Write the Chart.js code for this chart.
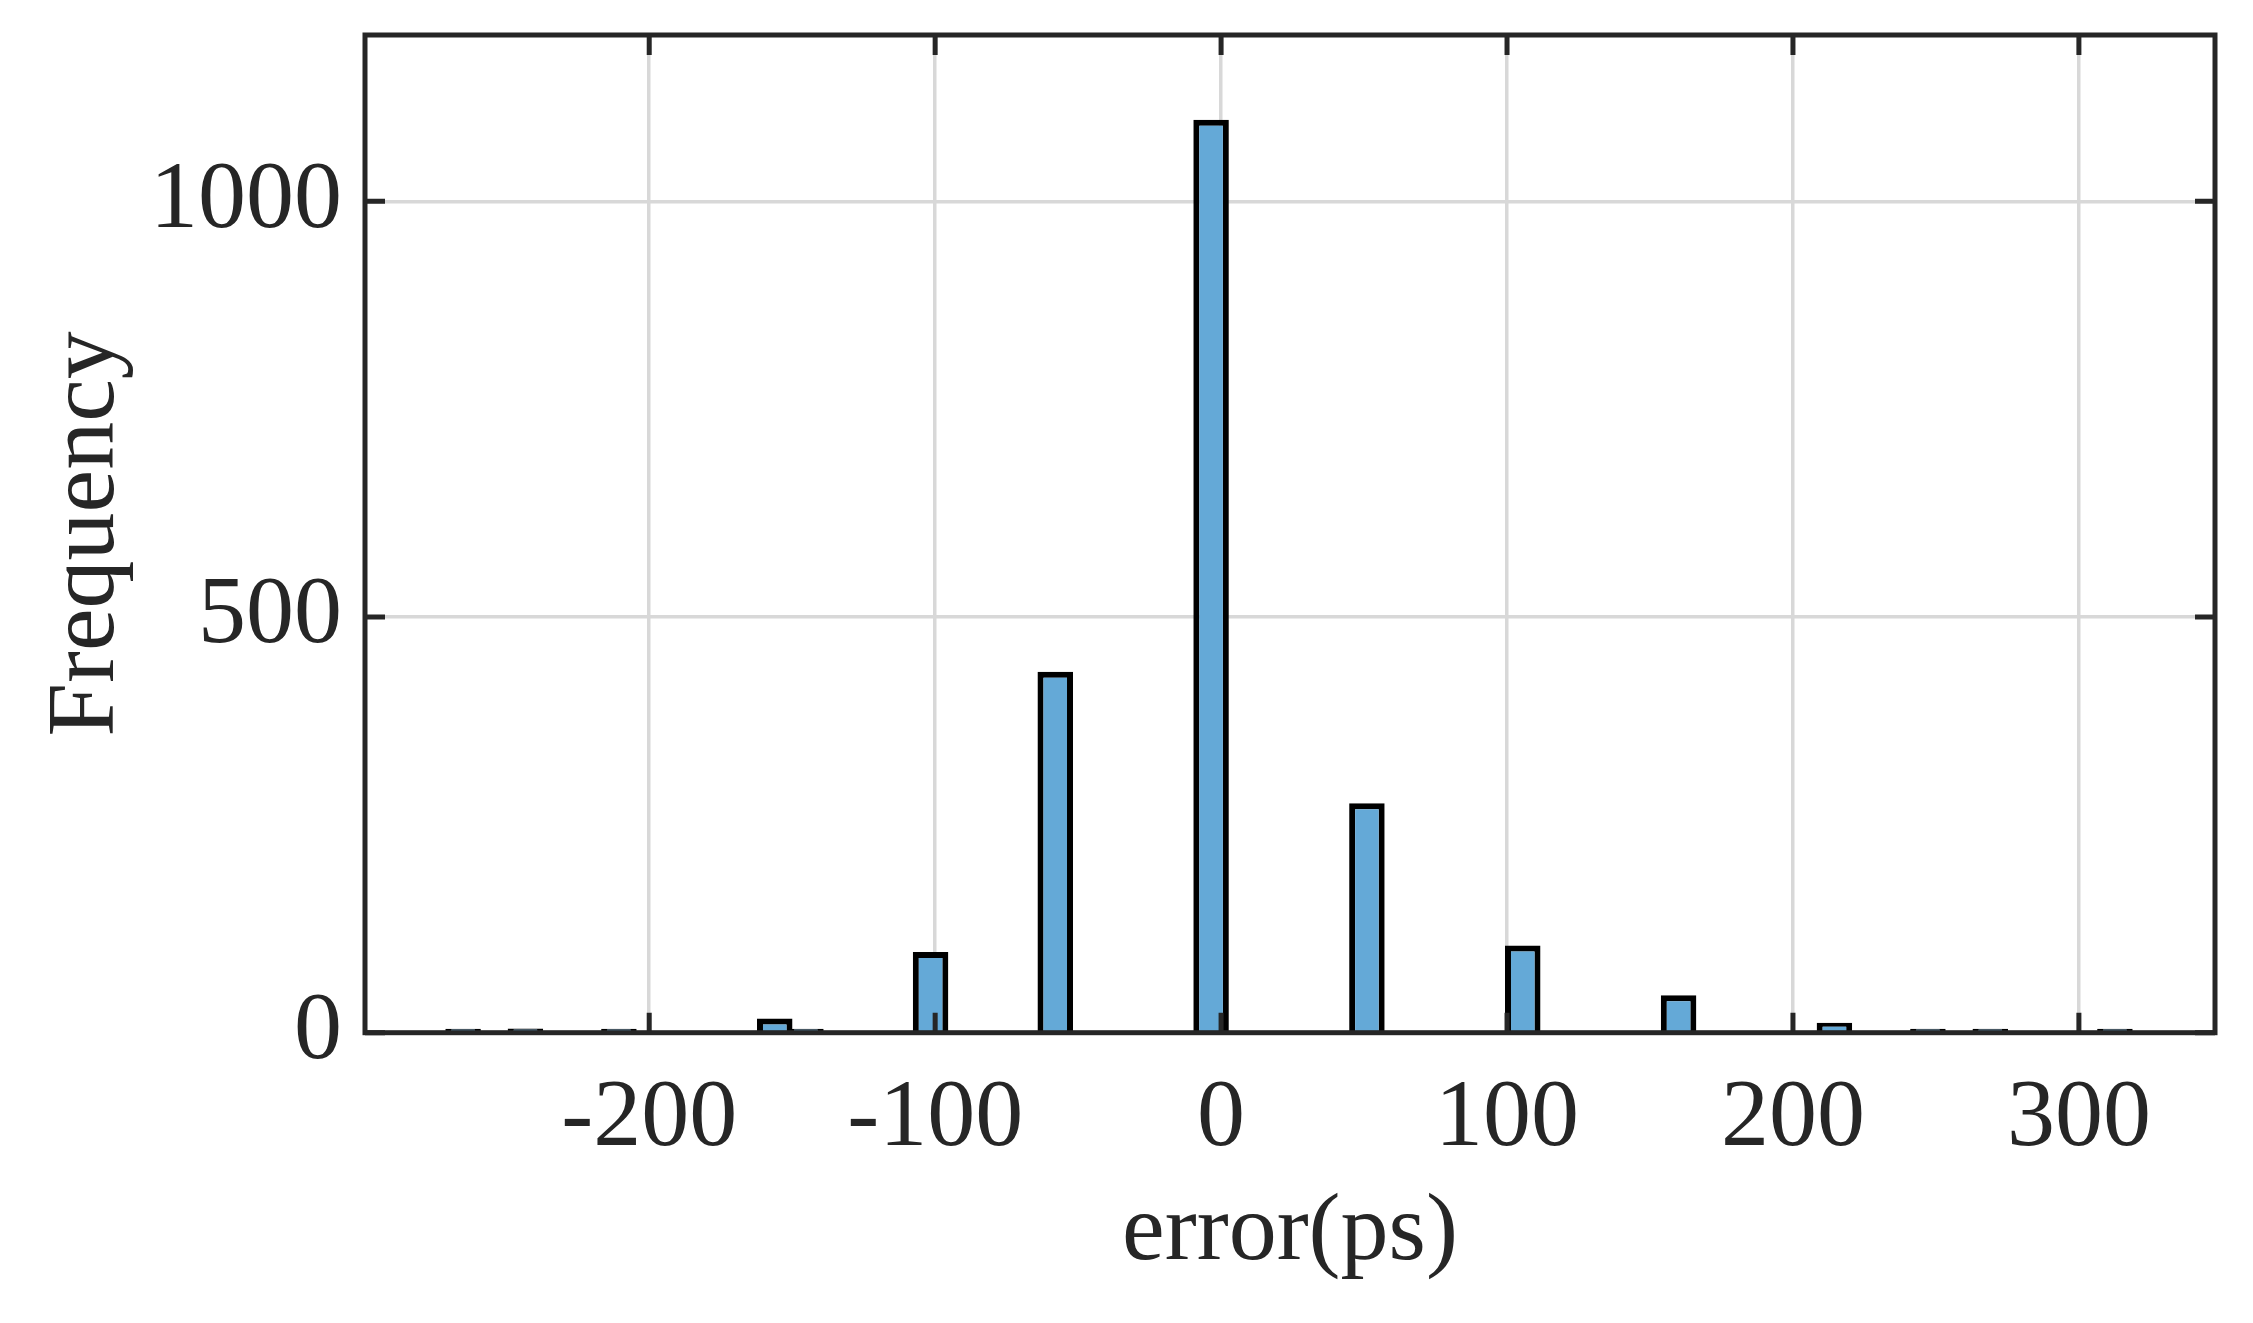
<!DOCTYPE html>
<html>
<head>
<meta charset="utf-8">
<title>error histogram</title>
<script src="https://cdn.jsdelivr.net/npm/chart.js@4.4.1/dist/chart.umd.min.js"></script>
<style>
    html, body { margin: 0; padding: 0; background: #ffffff; }
    canvas { display: block; }
</style>
</head>
<body>
<canvas id="histChart" width="2253" height="1323"></canvas>
<script>
// Histogram bins (only the non-empty ones)
const binCenters = [-265.1, -243.3, -210.6, -156.1, -145.2, -101.6, -58.0, -3.5, 51.0, 105.5, 160.0, 214.5, 247.2, 269.0, 312.6];
const counts     = [1, 5, 3, 17, 1, 97, 434, 1098, 276, 105, 45, 12, 4, 4, 2];

// Axis ticks
const xTicks = [-200, -100, 0, 100, 200, 300];
const yTicks = [0, 500, 1000];

const X_MIN = -299.4, X_MAX = 347.6;
const Y_MIN = 0, Y_MAX = 1200;

const INK = '#262626';
const GRID = '#d8d8d8';
const FONT = "'Liberation Serif', 'Times New Roman', serif";
const TICK_LEN = 20;

// MATLAB-style box with inward ticks on all four sides
const framePlugin = {
    id: 'frame',
    afterDatasetsDraw(chart) {
        const { ctx, chartArea: a, scales } = chart;
        ctx.save();
        ctx.strokeStyle = INK;
        ctx.lineWidth = 5;
        ctx.beginPath();
        xTicks.forEach(v => {
            const px = scales.x.getPixelForValue(v);
            ctx.moveTo(px, a.bottom); ctx.lineTo(px, a.bottom - TICK_LEN);
            ctx.moveTo(px, a.top); ctx.lineTo(px, a.top + TICK_LEN);
        });
        yTicks.forEach(v => {
            const py = scales.y.getPixelForValue(v);
            ctx.moveTo(a.left, py); ctx.lineTo(a.left + TICK_LEN, py);
            ctx.moveTo(a.right, py); ctx.lineTo(a.right - TICK_LEN, py);
        });
        ctx.stroke();
        ctx.strokeRect(a.left, a.top, a.right - a.left, a.bottom - a.top);
        ctx.restore();
    }
};

function init() {
    const ctx = document.getElementById('histChart').getContext('2d');
    new Chart(ctx, {
        type: 'bar',
        data: {
            datasets: [{
                data: binCenters.map((c, i) => ({ x: c, y: counts[i] })),
                backgroundColor: 'rgb(100, 169, 215)',
                borderColor: '#000000',
                borderWidth: 6,
                barPercentage: 1.14,
                categoryPercentage: 1,
                minBarLength: 4
            }]
        },
        options: {
            responsive: false,
            devicePixelRatio: 1,
            animation: false,
            layout: { padding: { left: 0, top: 35, right: 38, bottom: 0 } },
            plugins: { legend: { display: false }, tooltip: { enabled: false } },
            scales: {
                x: {
                    type: 'linear',
                    min: X_MIN,
                    max: X_MAX,
                    offset: false,
                    afterBuildTicks: s => { s.ticks = xTicks.map(v => ({ value: v })); },
                    afterFit: s => {
                        s.height = 290.3;
                        s.paddingLeft = 0; s.paddingRight = 0;
                    },
                    grid: { color: GRID, lineWidth: 3.5, drawTicks: false, offset: false },
                    border: { display: false },
                    ticks: {
                        color: INK,
                        padding: 29,
                        maxRotation: 0,
                        font: { family: FONT, size: 96 },
                        callback: v => String(v)
                    },
                    title: {
                        display: true,
                        text: 'error(ps)',
                        color: INK,
                        font: { family: FONT, size: 96 },
                        padding: { top: 0, bottom: 32 }
                    }
                },
                y: {
                    min: Y_MIN,
                    max: Y_MAX,
                    afterBuildTicks: s => { s.ticks = yTicks.map(v => ({ value: v })); },
                    afterFit: s => {
                        s.width = 365;
                        s.paddingTop = 0; s.paddingBottom = 0;
                    },
                    grid: { color: GRID, lineWidth: 3.5, drawTicks: false },
                    border: { display: false },
                    ticks: {
                        color: INK,
                        padding: 23,
                        font: { family: FONT, size: 96 },
                        callback: v => String(v)
                    },
                    title: {
                        display: true,
                        text: 'Frequency',
                        color: INK,
                        font: { family: FONT, size: 96 },
                        padding: { top: 30, bottom: 0 }
                    }
                }
            }
        },
        plugins: [framePlugin]
    });
}

window.addEventListener('DOMContentLoaded', init);
</script>
</body>
</html>
